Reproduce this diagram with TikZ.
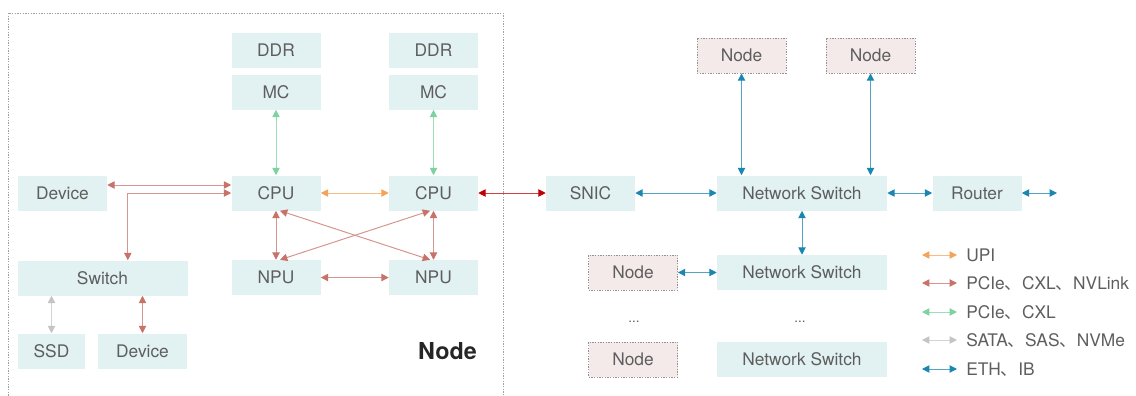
\documentclass[tikz,border=0pt]{standalone}
\usepackage{fontspec}
\setmainfont{TeX Gyre Heros}
\newfontfamily\cjk{Noto Sans CJK SC}
\usetikzlibrary{arrows.meta,positioning}

\definecolor{boxfill}{HTML}{E2F1F1}
\definecolor{nodefill}{HTML}{F5EAEA}
\definecolor{txtgray}{HTML}{5E5E5E}
\definecolor{upi}{HTML}{F4A45A}
\definecolor{pcie}{HTML}{C8736A}
\definecolor{cxl}{HTML}{7DD3A0}
\definecolor{sata}{HTML}{C4C4C4}
\definecolor{eth}{HTML}{1B87B0}
\definecolor{darkred}{HTML}{C00000}

\newcommand{\dun}{{\cjk 、}}

\tikzset{%
  % Specifications for style of nodes:
         base/.style =     { rectangle, inner sep=0pt, minimum height=26.25pt, text=txtgray,
                             font=\fontsize{13}{15}\selectfont, text height=9.4pt, text depth=0pt },
         box/.style =      { base, fill=boxfill, minimum width=66.75pt },
         widebox/.style =  { box, minimum width=127.5pt },
         peer/.style =     { base, fill=nodefill, draw=gray!85, line width=0.6pt,
                             dash pattern=on 1pt off 1pt, minimum width=66.75pt },
         legend/.style =   { base, minimum height=0pt, anchor=west, inner xsep=6.75pt },
         dots/.style =     { text=txtgray, font=\fontsize{10}{12}\selectfont, inner sep=0pt, anchor=base },
  % Specifications for style of links:
         link/.style =     { line width=0.75pt, draw=#1!75, <->,
                             >={Triangle[length=5.5pt,width=5.5pt,color=#1]} },
}

\begin{document}
\begin{tikzpicture}[x=0.75pt, y=-0.75pt]
    \useasboundingbox (0,0) rectangle (1136,396);

    % Node frame
    \draw[gray!75, line width=0.6pt, dash pattern=on 1pt off 1pt] (8,13) rectangle (503,410);
    \node (nodelabel) [font=\bfseries\fontsize{17.5}{20}\selectfont, text=black!85] at (447.5,351) {Node};

    % Draw nodes inside the node
    \node (ddr1)     [box]                       at (276,50.5)   {DDR};
    \node (mc1)      [box, below=4.5pt of ddr1]                  {MC};
    \node (ddr2)     [box]                       at (433.5,50.5) {DDR};
    \node (mc2)      [box, below=4.5pt of ddr2]                  {MC};
    \node (dev1)     [box]                       at (62.5,193)   {Device};
    \node (cpu1)     [box]                       at (276,193)    {CPU};
    \node (cpu2)     [box]                       at (433.5,193)  {CPU};
    \node (npu1)     [box, below=36.75pt of cpu1]                {NPU};
    \node (npu2)     [box, below=36.75pt of cpu2]                {NPU};
    \node (switch)   [widebox]                   at (102.5,278)  {Switch};
    \node (ssd)      [box, minimum width=50.25pt] at (51.5,351)  {SSD};
    \node (dev2)     [box]                       at (142.5,351)  {Device};

    % Draw nodes outside
    \node (snic)     [box]                       at (590.5,193)  {SNIC};
    \node (ns1)      [widebox]                   at (802,193)    {Network Switch};
    \node (router)   [box]                       at (977,193)    {Router};
    \coordinate (uplink) at (1057,193);
    \node (peer1)    [peer]                      at (741.5,55.5) {Node};
    \node (peer2)    [peer]                      at (870.5,55.5) {Node};
    \node (ns2)      [widebox]                   at (802,272.5)  {Network Switch};
    \node (peer3)    [peer]                      at (633,272.5)  {Node};
    \node (dotsa)    [dots]                      at (634,322)    {...};
    \node (dotsb)    [dots]                      at (800,322)    {...};
    \node (ns3)      [widebox]                   at (802,359.5)  {Network Switch};
    \node (peer4)    [peer]                      at (633,359.5)  {Node};

    % Draw arrows
    \draw[link=cxl]       (mc1) -- (cpu1);
    \draw[link=cxl]       (mc2) -- (cpu2);
    \draw[link=upi]       (cpu1) -- (cpu2);
    \draw[link=darkred]   (cpu2) -- (snic);
    \draw[link=pcie]      ([yshift=6pt]dev1.east) -- ([yshift=6pt]cpu1.west);
    \draw[link=pcie]      (cpu1.west) -| ([xshift=19pt]switch.north);
    \draw[link=pcie]      (cpu1) -- (npu1);
    \draw[link=pcie]      (cpu2) -- (npu2);
    \draw[link=pcie]      ([xshift=3pt]cpu1.south) -- ([xshift=-2.6pt]npu2.north);
    \draw[link=pcie]      ([xshift=3pt]npu1.north) -- ([xshift=-2.6pt]cpu2.south);
    \draw[link=pcie]      (npu1) -- (npu2);
    \draw[link=sata]      (ssd.north) -- (ssd.north |- switch.south);
    \draw[link=pcie]      (dev2.north) -- (dev2.north |- switch.south);

    \draw[link=eth]       (snic) -- (ns1);
    \draw[link=eth]       (ns1) -- (router);
    \draw[link=eth]       (router) -- (uplink);
    \draw[link=eth]       (peer1.south) -- (peer1.south |- ns1.north);
    \draw[link=eth]       (peer2.south) -- (peer2.south |- ns1.north);
    \draw[link=eth]       (ns1) -- (ns2);
    \draw[link=eth]       (peer3) -- (ns2);

    % Draw legend
    \coordinate (lg1) at (922,255);
    \coordinate (lg2) at (922,283);
    \coordinate (lg3) at (922,312);
    \coordinate (lg4) at (922,340);
    \coordinate (lg5) at (922,369);
    \node (upitxt)   [legend] at (957,255) {UPI};
    \node (pcietxt)  [legend] at (957,283) {PCIe\dun CXL\dun NVLink};
    \node (cxltxt)   [legend] at (957,312) {PCIe\dun CXL};
    \node (satatxt)  [legend] at (957,340) {SATA\dun SAS\dun NVMe};
    \node (ethtxt)   [legend] at (957,369) {ETH\dun IB};
    \draw[link=upi]       (lg1) -- (upitxt);
    \draw[link=pcie]      (lg2) -- (pcietxt);
    \draw[link=cxl]       (lg3) -- (cxltxt);
    \draw[link=sata]      (lg4) -- (satatxt);
    \draw[link=eth]       (lg5) -- (ethtxt);
\end{tikzpicture}
\end{document}
